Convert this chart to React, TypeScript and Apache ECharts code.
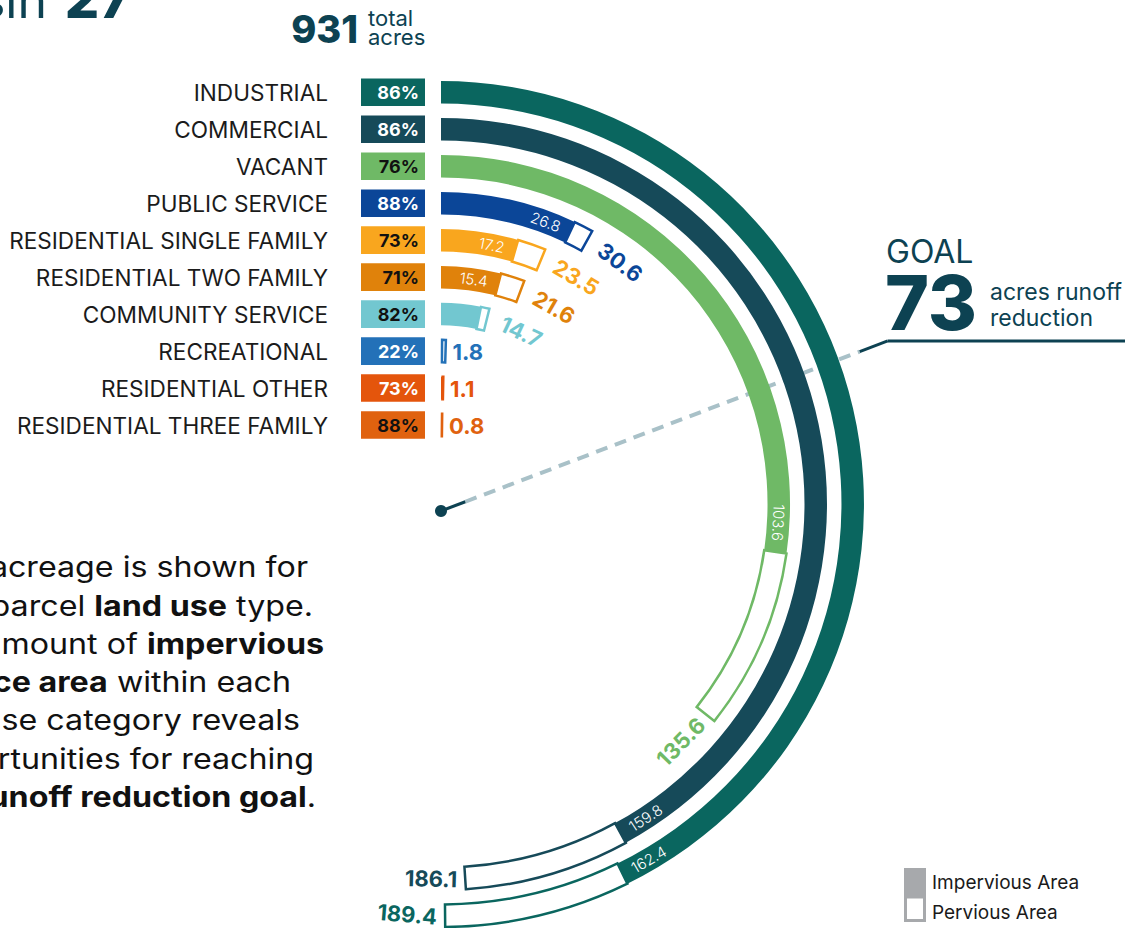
import React, { useEffect, useRef } from "react";
import * as echarts from "echarts";

// ---------------- data ----------------
const categories = [
  "INDUSTRIAL",
  "COMMERCIAL",
  "VACANT",
  "PUBLIC SERVICE",
  "RESIDENTIAL SINGLE FAMILY",
  "RESIDENTIAL TWO FAMILY",
  "COMMUNITY SERVICE",
  "RECREATIONAL",
  "RESIDENTIAL OTHER",
  "RESIDENTIAL THREE FAMILY",
];
const totalAcres = [189.4, 186.1, 135.6, 30.6, 23.5, 21.6, 14.7, 1.8, 1.1, 0.8];
const imperviousAcres = [162.4, 159.8, 103.6, 26.8, 17.2, 15.4, 12.1, 0.4, 0.8, 0.7];
const imperviousPct = [86, 86, 76, 88, 73, 71, 82, 22, 73, 88];
const goalAcres = 73;
const totalAllAcres = 931;
const ANGLE_MAX = 380; // acres for a full turn

// ---------------- styles ----------------
const colors = ["#0a665f", "#164a59", "#6fb966", "#0b4698", "#f9a61e", "#e0820b", "#72c7d0", "#2371b8", "#e4550c", "#e0620f"];
const pctTextColors = ["#ffffff", "#ffffff", "#111111", "#ffffff", "#111111", "#111111", "#111111", "#ffffff", "#ffffff", "#111111"];
const DARK = "#0d4252";
const FONT = "Inter, 'Noto Sans', sans-serif";
const FLIP = (100 * Math.PI) / 180;

let measureCtx: CanvasRenderingContext2D | null = null;
function measure(text: string, size: number, weight: number) {
  if (!measureCtx) measureCtx = document.createElement("canvas").getContext("2d");
  if (!measureCtx) return text.length * size * 0.6;
  measureCtx.font = `${weight} ${size}px Inter`;
  return measureCtx.measureText(text).width;
}

function labelsRenderItem(params: any, api: any) {
  const i = params.dataIndex;
  const cs = params.coordSys;
  const cx = cs.cx;
  const cy = cs.cy;
  const p0 = api.coord([i, 0]);
  const r = Math.hypot(p0[0] - cx, p0[1] - cy);
  const angleOf = (v: number) => {
    const p = api.coord([i, v]);
    let a = Math.atan2(p[0] - cx, cy - p[1]);
    if (a < -1e-6) a += 2 * Math.PI;
    return a;
  };
  const rowY = p0[1];
  const color = colors[i];
  const children: any[] = [
    {
      type: "text",
      x: cx - 113,
      y: rowY,
      style: { text: categories[i], fill: "#1b1b1b", fontSize: 22.6, fontFamily: FONT, align: "right", verticalAlign: "middle" },
    },
    { type: "rect", shape: { x: cx - 80, y: rowY - 13.8, width: 64, height: 27.6 }, style: { fill: color } },
    {
      type: "text",
      x: cx - 22,
      y: rowY + 0.5,
      style: {
        text: imperviousPct[i] + "%",
        fill: pctTextColors[i],
        fontSize: 18,
        fontWeight: 700,
        fontFamily: FONT,
        align: "right",
        verticalAlign: "middle",
      },
    },
  ];
  const tangential = (text: string, alpha: number, style: any) => {
    let phi = alpha;
    if (phi > FLIP) phi -= Math.PI;
    return {
      type: "text",
      x: cx + r * Math.sin(alpha),
      y: cy - r * Math.cos(alpha),
      rotation: -phi,
      style: { text, align: "center", verticalAlign: "middle", fontFamily: FONT, ...style },
    };
  };
  // impervious value inside the filled part
  const imp = imperviousAcres[i];
  if (imp >= 15) {
    const s = imp.toFixed(1);
    const w = measure(s, 15, 300);
    const te = angleOf(imp);
    const alpha = te - (11 + w / 2) / r;
    children.push(tangential(s, alpha, { fill: "#ffffff", fontSize: 15, fontWeight: 300 }));
  }
  // total value after the bar
  const tot = totalAcres[i];
  const st = tot.toFixed(1);
  const wt = measure(st, 22, 700);
  const tt = angleOf(tot);
  if (tot >= 5) {
    const a0 = tt + (8 + wt / 2) / r;
    const pad = a0 > FLIP ? 8 : 15;
    const alpha = tt + (pad + wt / 2) / r;
    children.push(tangential(st, alpha, { fill: color, fontSize: 22, fontWeight: 700 }));
  } else {
    children.push({
      type: "text",
      x: cx + r * Math.sin(tt) + 7,
      y: cy - r * Math.cos(tt) + 0.5,
      style: { text: st, fill: color, fontSize: 22, fontWeight: 700, fontFamily: FONT, align: "left", verticalAlign: "middle" },
    });
  }
  return { type: "group", children };
}

function goalRenderItem(params: any, api: any) {
  const cs = params.coordSys;
  const p = api.coord([0, api.value(1)]);
  const a = Math.atan2(p[0] - cs.cx, cs.cy - p[1]);
  const ox = cs.cx;
  const oy = cs.cy + 7;
  const ux = Math.sin(a);
  const uy = -Math.cos(a);
  const pt = (d: number) => [ox + ux * d, oy + uy * d];
  const s1 = pt(26);
  const s2 = pt(448);
  const s3 = pt(478);
  return {
    type: "group",
    children: [
      {
        type: "line",
        shape: { x1: s1[0], y1: s1[1], x2: s2[0], y2: s2[1] },
        style: { stroke: "#a9c1c8", lineWidth: 4, lineDash: [12, 8] },
      },
      { type: "line", shape: { x1: ox, y1: oy, x2: s1[0], y2: s1[1] }, style: { stroke: DARK, lineWidth: 3 } },
      { type: "circle", shape: { cx: ox, cy: oy, r: 6 }, style: { fill: DARK } },
      { type: "line", shape: { x1: s2[0], y1: s2[1], x2: s3[0], y2: s3[1] }, style: { stroke: DARK, lineWidth: 3 } },
      { type: "line", shape: { x1: s3[0], y1: s3[1], x2: 1125, y2: s3[1] }, style: { stroke: DARK, lineWidth: 3 } },
    ],
  };
}

const paragraph = [
  { text: "Total acreage is shown for", right: 308 },
  { text: "each parcel {b|land use} type.", right: 313 },
  { text: "The amount of {b|impervious}", right: 324 },
  { text: "{b|surface area} within each", right: 291 },
  { text: "land use category reveals", right: 300 },
  { text: "opportunities for reaching", right: 314 },
  { text: "the {b|runoff reduction goal}.", right: 316 },
];

function text(x: number, y: number, t: string, size: number, opts: any = {}) {
  return {
    type: "text",
    x,
    y,
    style: { text: t, fontSize: size, fontFamily: FONT, fill: DARK, align: "left", verticalAlign: "middle", ...opts },
  };
}

export default function App() {
  const ref = useRef<HTMLDivElement>(null);
  useEffect(() => {
    if (!ref.current) return;
    const chart = echarts.init(ref.current, null, { renderer: "svg" });
    const perviousAcres = totalAcres.map((t, i) => Math.round((t - imperviousAcres[i]) * 10) / 10);

    const graphic: any[] = [
      text(47, -0.5, "Basin", 50, { align: "right", fontWeight: 400 }),
      text(131, -1.7, "27", 54, { align: "right", fontWeight: 800 }),
      text(358, 28.5, String(totalAllAcres), 38, { align: "right", fontWeight: 800, lineHeight: 30 }),
      text(368, 17.5, "total", 22, { lineHeight: 18 }),
      text(368, 37, "acres", 22, { lineHeight: 18 }),
      text(886, 251, "GOAL", 32, { lineHeight: 26 }),
      text(885, 302, String(goalAcres), 75, { fontWeight: 800, lineHeight: 58 }),
      text(990, 292, "acres runoff", 23, { lineHeight: 20 }),
      text(990, 318, "reduction", 23, { lineHeight: 20 }),
      { type: "rect", shape: { x: 904, y: 868, width: 22, height: 29 }, style: { fill: "#a7a9ac" } },
      { type: "rect", shape: { x: 905.5, y: 897, width: 19, height: 23.5 }, style: { fill: "#ffffff", stroke: "#a7a9ac", lineWidth: 3 } },
      text(932, 882, "Impervious Area", 19, { fill: "#1a1a1a", lineHeight: 20 }),
      text(932, 912, "Pervious Area", 19, { fill: "#1a1a1a", lineHeight: 20 }),
    ];
    paragraph.forEach((line, k) => {
      graphic.push({
        type: "text",
        x: line.right,
        y: 567 + 38.3 * k,
        scaleX: 1.15,
        style: {
          text: line.text,
          fontSize: 28,
          fontFamily: FONT,
          fill: "#111111",
          align: "right",
          verticalAlign: "middle",
          rich: { b: { fontSize: 28, fontFamily: FONT, fontWeight: 700, fill: "#111111" } },
        },
      });
    });

    chart.setOption({
      animation: false,
      polar: { center: [441, 504], radius: [60.5, 430.2] },
      angleAxis: {
        type: "value",
        min: 0,
        max: ANGLE_MAX,
        startAngle: 90,
        clockwise: true,
        show: false,
        axisLine: { show: false },
        axisLabel: { show: false },
        axisTick: { show: false },
        splitLine: { show: false },
      },
      radiusAxis: {
        type: "category",
        data: categories,
        inverse: true,
        show: false,
        axisLine: { show: false },
        axisLabel: { show: false },
        axisTick: { show: false },
        splitLine: { show: false },
      },
      series: [
        {
          type: "custom",
          name: "goal",
          coordinateSystem: "polar",
          z: 1,
          clip: false,
          silent: true,
          encode: { radius: 0, angle: 1 },
          data: [[0, goalAcres]],
          renderItem: goalRenderItem,
        },
        {
          type: "bar",
          name: "Impervious Area",
          coordinateSystem: "polar",
          stack: "acres",
          barWidth: 22.5,
          z: 2,
          data: imperviousAcres.map((v, i) => ({ value: v, itemStyle: { color: colors[i] } })),
        },
        {
          type: "bar",
          name: "Pervious Area",
          coordinateSystem: "polar",
          stack: "acres",
          barWidth: 22.5,
          z: 2,
          data: perviousAcres.map((v, i) => ({
            value: v,
            itemStyle: { color: "#ffffff", borderColor: colors[i], borderWidth: 2.5 },
          })),
        },
        {
          type: "custom",
          name: "labels",
          coordinateSystem: "polar",
          z: 5,
          clip: false,
          silent: true,
          encode: { radius: 0, angle: 1 },
          data: categories.map((_, i) => [i, totalAcres[i]]),
          renderItem: labelsRenderItem,
        },
      ],
      graphic,
    });
    return () => chart.dispose();
  }, []);
  return <div ref={ref} style={{ position: "absolute", left: 0, top: 0, width: 1131, height: 928 }} />;
}
